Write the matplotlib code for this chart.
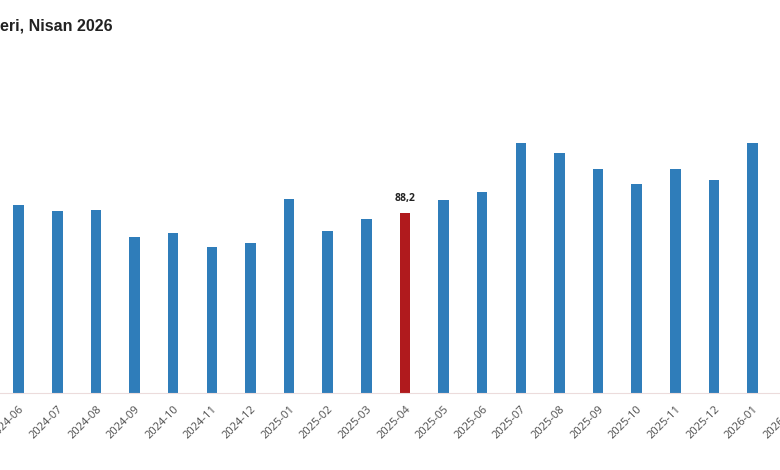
import matplotlib
matplotlib.use("Agg")
import matplotlib.pyplot as plt
import numpy as np

plt.rcParams["font.family"] = ["Open Sans", "DejaVu Sans"]

MONTHS = [
    "2024-06", "2024-07", "2024-08", "2024-09", "2024-10", "2024-11", "2024-12",
    "2025-01", "2025-02", "2025-03", "2025-04", "2025-05", "2025-06", "2025-07",
    "2025-08", "2025-09", "2025-10", "2025-11", "2025-12", "2026-01", "2026-02",
]
VALUES = [
    92.1, 89.3, 89.8, 76.7, 78.7, 71.8, 73.7,
    95.1, 79.6, 85.4, 88.2, 94.6, 98.5, 122.6,
    117.7, 110.0, 102.5, 110.0, 104.7, 122.6, 115.0,
]
HIGHLIGHT = "2025-04"
TITLE = "eri, Nisan 2026"

BLUE = "#2f7dba"
RED = "#b01a1d"

fig = plt.figure(figsize=(7.8, 4.7), dpi=100)
# the reference is a crop, so the axes run past the figure edges
ax = fig.add_axes([-0.1, 0.1645, 1.2, 0.7078])

x = np.arange(len(MONTHS))
colors = [RED if m == HIGHLIGHT else BLUE for m in MONTHS]
ax.bar(x, VALUES, width=0.27, color=colors, zorder=2)

hi = MONTHS.index(HIGHLIGHT)
ax.annotate(f"{VALUES[hi]:.1f}".replace(".", ","), (x[hi], VALUES[hi]),
            xytext=(0, 6.5), textcoords="offset points", ha="center", va="bottom",
            fontsize=7.5, fontweight="bold", color="#222222")

ax.set_xlim(-2.504, 21.73)
ax.set_ylim(0, 163.6)
ax.set_xticks(x)
ax.set_xticklabels(MONTHS, rotation=45, ha="right", rotation_mode="anchor",
                   fontsize=8, color="#4d4d4d")
ax.tick_params(axis="x", length=0, pad=8)
ax.set_yticks([])
for side in ("top", "left", "right"):
    ax.spines[side].set_visible(False)
ax.spines["bottom"].set_color("#ecdcdc")
ax.spines["bottom"].set_linewidth(0.8)

fig.text(0.0, 1 - 26 / 470, TITLE, ha="left", va="center",
         fontsize=11.5, fontweight="bold", color="#222222",
         family=["Liberation Sans", "DejaVu Sans"])

fig.savefig("out.png", dpi=100, facecolor="white")
